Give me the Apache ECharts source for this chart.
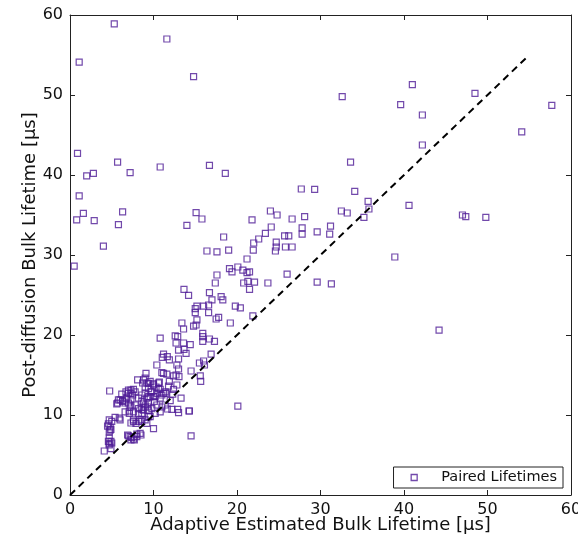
<!DOCTYPE html>
<html>
<head>
<meta charset="utf-8">
<script src="https://cdn.jsdelivr.net/npm/echarts@6/dist/echarts.min.js"></script>
<style>
  html, body { margin: 0; padding: 0; background: #fff; }
  #chart { width: 578px; height: 536px; }
</style>
</head>
<body>
<div id="chart"></div>
<script>
// [adaptive estimate, post-diffusion] lifetimes in µs
const pairedLifetimes = [
  [1.1, 54.1], [5.3, 58.9], [11.6, 57.0], [14.8, 52.3], [0.9, 42.7], [5.7, 41.6],
  [2.0, 39.9], [2.8, 40.2], [7.2, 40.3], [10.8, 41.0], [16.7, 41.2], [18.6, 40.2],
  [1.1, 37.4], [1.6, 35.2], [6.3, 35.4], [15.1, 35.3], [15.8, 34.5], [21.8, 34.4],
  [0.8, 34.4], [2.9, 34.3], [0.5, 28.6], [4.0, 31.1], [5.8, 33.8], [14.0, 33.7],
  [32.6, 49.8], [41.0, 51.3], [39.6, 48.8], [42.2, 47.5], [48.5, 50.2], [57.7, 48.7],
  [54.1, 45.4], [42.2, 43.75], [33.6, 41.6], [27.7, 38.25], [29.3, 38.2], [34.1, 37.95],
  [35.7, 36.7], [35.8, 35.75], [35.2, 34.7], [32.5, 35.5], [33.2, 35.25], [40.6, 36.2],
  [47.0, 35.0], [47.4, 34.8], [49.8, 34.7], [24.0, 35.5], [24.8, 35.0], [26.6, 34.5],
  [28.1, 34.8], [24.1, 33.5], [27.8, 33.4], [31.2, 33.6], [27.8, 32.6], [31.1, 32.6],
  [29.6, 32.9], [23.4, 32.7], [25.7, 32.4], [26.2, 32.4], [22.6, 32.0], [22.0, 31.5],
  [24.7, 31.6], [24.7, 31.0], [25.8, 31.0], [26.6, 31.0], [24.6, 30.5], [38.9, 29.75],
  [29.6, 26.6], [31.3, 26.4], [44.2, 20.6],
  [18.4, 32.25], [16.4, 30.5], [17.6, 30.4], [19.0, 30.6], [21.95, 30.6], [21.2, 29.5],
  [19.1, 28.3], [19.4, 27.9], [20.1, 28.5], [20.7, 28.1], [21.2, 27.8], [21.5, 27.9],
  [17.6, 27.5], [17.4, 26.5], [20.8, 26.5], [21.3, 26.7], [22.1, 26.6], [23.7, 26.5],
  [21.5, 25.7], [26.0, 27.6], [16.7, 25.3], [18.1, 24.8], [18.3, 24.4], [17.0, 24.4],
  [16.6, 23.75], [16.0, 23.6], [15.2, 23.6], [16.6, 22.8], [15.0, 23.3], [15.0, 22.8],
  [19.8, 23.6], [20.4, 23.4], [17.5, 22.0], [17.8, 22.2], [19.2, 21.5], [21.9, 22.4],
  [15.2, 21.9], [15.1, 21.25], [14.8, 21.1], [15.9, 20.2], [15.9, 19.8], [15.9, 19.2],
  [16.7, 19.5], [17.3, 19.2], [16.9, 17.6], [15.5, 16.5], [16.0, 16.75], [16.1, 16.25],
  [15.6, 14.9], [15.65, 14.2], [20.1, 11.1], [13.65, 25.7], [14.2, 24.96], [13.4, 21.5],
  [13.6, 20.75], [12.9, 19.8],
  [10.8, 19.6], [12.6, 19.9], [13.6, 19.0], [14.4, 18.8], [12.7, 19.0], [13.0, 18.1],
  [13.9, 17.7], [13.65, 18.2], [11.2, 17.6], [11.65, 17.3], [11.05, 17.2], [11.9, 16.9],
  [13.0, 17.0], [12.8, 16.25], [13.0, 15.75], [10.4, 16.25], [11.2, 15.2], [11.0, 15.3],
  [11.6, 15.1], [12.4, 14.9], [12.7, 15.0], [13.05, 14.8], [14.5, 15.5], [9.1, 15.2],
  [8.1, 14.4], [8.7, 14.0], [9.4, 13.96], [9.0, 14.6], [10.0, 13.9], [10.7, 14.1],
  [10.6, 13.3], [10.4, 12.7], [9.7, 12.9], [9.4, 12.3], [10.0, 12.3], [11.0, 12.5],
  [11.5, 12.7], [12.0, 11.8], [12.2, 10.7], [11.65, 10.75], [12.9, 10.7], [13.3, 12.1],
  [14.3, 10.5], [13.0, 10.3], [4.75, 13.0], [7.0, 13.1], [7.6, 13.2], [6.7, 12.9],
  [7.3, 12.7], [6.2, 12.6], [6.0, 11.9], [5.7, 11.5], [6.3, 11.7], [5.8, 11.9],
  [6.7, 12.0], [7.3, 11.9], [7.0, 11.5], [7.3, 11.0], [7.8, 11.25], [7.1, 10.5],
  [8.2, 12.1], [8.6, 11.7], [9.0, 11.25], [8.2, 10.8], [8.8, 10.6], [9.3, 11.0],
  [8.6, 10.2], [9.4, 9.8], [9.0, 9.4], [8.5, 9.4], [8.2, 9.2], [6.6, 10.4],
  [6.0, 9.4], [5.4, 9.7], [5.9, 9.6], [7.6, 9.4], [7.3, 9.0], [7.9, 8.96],
  [4.7, 9.4], [4.6, 8.9], [4.9, 8.2], [4.8, 8.5], [10.0, 8.3], [7.0, 7.4],
  [7.4, 7.2], [6.9, 7.5], [8.0, 7.3], [8.5, 7.5], [8.0, 7.6], [4.7, 7.1],
  [5.0, 6.5], [4.7, 6.25], [4.9, 5.8], [4.9, 6.7], [4.1, 5.5], [14.5, 7.4],
  [14.25, 10.5],
  [8.8, 14.4], [9.2, 14.0], [9.6, 14.2], [9.0, 13.5], [9.4, 13.3], [10.0, 13.75],
  [10.6, 14.0], [10.3, 13.5], [10.8, 13.2], [11.2, 12.7], [11.4, 12.9], [9.8, 12.9],
  [9.0, 12.7], [8.6, 12.5], [9.2, 12.1], [9.6, 12.3], [10.2, 12.3], [10.8, 12.1],
  [10.1, 11.7], [9.4, 11.5], [8.8, 11.5], [9.0, 11.0], [9.4, 10.6], [9.8, 10.8],
  [10.4, 11.25], [11.0, 11.0], [11.4, 11.25], [10.8, 10.4], [10.2, 10.2], [9.6, 9.8],
  [8.6, 9.2], [9.2, 8.96], [5.0, 9.2], [4.5, 8.6], [4.8, 8.1], [4.7, 7.9],
  [4.6, 6.7], [4.7, 6.4], [6.3, 11.8], [5.6, 11.4], [6.6, 11.5], [6.8, 12.1],
  [7.0, 12.7], [7.5, 12.5], [7.8, 12.9], [7.3, 13.1], [7.2, 11.25], [7.1, 10.2],
  [7.6, 10.4], [7.6, 9.2], [8.2, 10.2], [8.6, 10.7], [7.2, 7.3], [7.6, 7.0],
  [8.4, 7.7], [7.7, 6.9], [7.3, 6.9], [11.9, 14.2], [12.8, 13.75], [12.4, 13.2],
  [11.8, 13.6], [12.3, 12.6]
];
const identityLine = [0, 55];
const axisTicks = [0, 10, 20, 30, 40, 50, 60];

const purple = "#4f1c96";
const font = "DejaVu Sans";

const chart = echarts.init(document.getElementById("chart"));

const frameAxis = (position) => ({
  type: "value",
  position: position,
  min: axisTicks[0],
  max: axisTicks[axisTicks.length - 1],
  interval: axisTicks[1] - axisTicks[0],
  axisLine: { show: true, onZero: false, lineStyle: { color: "#222", width: 1 } },
  axisTick: { show: true, inside: true, length: 5, lineStyle: { color: "#222" } },
  axisLabel: { show: false },
  splitLine: { show: false }
});

chart.setOption({
  animation: false,
  backgroundColor: "#fff",
  grid: { left: 70, right: 7, top: 15, bottom: 41, outerBoundsMode: "none" },
  xAxis: [
    Object.assign(frameAxis("bottom"), {
      name: "Adaptive Estimated Bulk Lifetime [\u03bcs]",
      nameLocation: "middle",
      nameGap: 21,
      nameMoveOverlap: false,
      nameTextStyle: { fontFamily: font, fontSize: 18, color: "#111" },
      axisLabel: { show: true, fontFamily: font, fontSize: 16, color: "#111", margin: 7 }
    }),
    frameAxis("top")
  ],
  yAxis: [
    Object.assign(frameAxis("left"), {
      name: "Post-diffusion Bulk Lifetime [\u03bcs]",
      nameLocation: "middle",
      nameGap: 31,
      nameMoveOverlap: false,
      nameTextStyle: { fontFamily: font, fontSize: 18, color: "#111" },
      axisLabel: { show: true, fontFamily: font, fontSize: 16, color: "#111", margin: 7 }
    }),
    frameAxis("right")
  ],
  legend: {
    data: ["Paired Lifetimes"],
    right: 15,
    bottom: 48,
    orient: "vertical",
    backgroundColor: "#fff",
    borderColor: "#222",
    borderWidth: 1,
    borderRadius: 0,
    padding: [3, 6, 3, 17],
    itemWidth: 28,
    itemHeight: 6,
    icon: "path://M0,0L10,0L10,10L0,10Z",
    itemStyle: { color: "rgba(0,0,0,0)", borderColor: purple, borderWidth: 1.3 },
    textStyle: { fontFamily: font, fontSize: 14.5, color: "#111", padding: [0, 0, 0, 8] }
  },
  series: [
    {
      name: "Paired Lifetimes",
      type: "scatter",
      symbol: "rect",
      symbolSize: 6,
      itemStyle: { color: "rgba(0,0,0,0)", borderColor: purple, borderWidth: 1.2 },
      data: pairedLifetimes,
      z: 3
    },
    {
      name: "identity",
      type: "line",
      data: identityLine.map((v) => [v, v]),
      showSymbol: false,
      symbol: "none",
      lineStyle: { color: "#000", width: 2, type: [7, 5] },
      z: 4,
      silent: true
    }
  ]
});
</script>
</body>
</html>
